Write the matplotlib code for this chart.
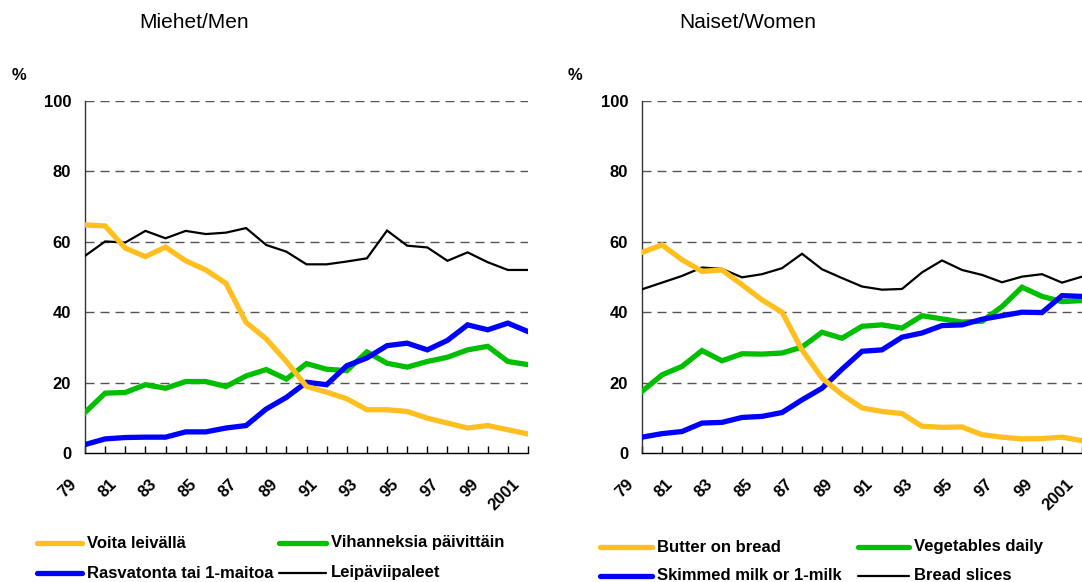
import matplotlib
matplotlib.use("Agg")
import matplotlib.pyplot as plt
from matplotlib.lines import Line2D
from matplotlib.transforms import ScaledTranslation

plt.rcParams['font.family'] = ['Liberation Sans', 'DejaVu Sans']

years = list(range(1979, 2002))
tick_labels = [str(y)[2:] if y < 2000 else str(y) for y in years]

men_butter = [64.8, 64.5, 58.2, 55.8, 58.5, 54.6, 52.0, 48.2, 37.1, 32.4, 26.0, 18.9,
              17.3, 15.4, 12.3, 12.3, 11.8, 9.9, 8.5, 7.1, 7.8, 6.6, 5.4]
men_veg = [11.5, 17.0, 17.2, 19.4, 18.4, 20.3, 20.3, 18.9, 21.9, 23.7, 21.0, 25.4,
           23.8, 23.4, 28.7, 25.5, 24.4, 26.0, 27.2, 29.3, 30.3, 26.0, 25.1]
men_milk = [2.4, 4.0, 4.4, 4.5, 4.5, 6.0, 6.0, 7.1, 7.8, 12.5, 15.8, 20.1,
            19.4, 24.8, 27.0, 30.5, 31.2, 29.3, 32.0, 36.4, 35.0, 36.9, 34.5]
men_bread = [56.0, 60.1, 59.8, 63.1, 61.0, 63.1, 62.2, 62.6, 63.9, 59.1, 57.2, 53.6,
             53.6, 54.4, 55.3, 63.2, 58.9, 58.4, 54.6, 57.0, 54.2, 52.0, 52.0]

women_butter = [57.0, 59.1, 54.9, 51.6, 52.0, 47.8, 43.5, 40.0, 29.3, 21.3, 16.6, 12.8,
                11.8, 11.2, 7.6, 7.3, 7.4, 5.2, 4.5, 4.0, 4.1, 4.5, 3.5]
women_veg = [17.5, 22.2, 24.6, 29.1, 26.2, 28.2, 28.1, 28.4, 30.1, 34.3, 32.6, 36.0,
             36.4, 35.5, 39.0, 38.1, 37.2, 37.4, 41.6, 47.1, 44.5, 43.0, 43.3]
women_milk = [4.5, 5.5, 6.1, 8.5, 8.7, 10.1, 10.4, 11.5, 15.1, 18.4, 23.8, 28.9,
              29.3, 32.9, 34.1, 36.2, 36.4, 38.0, 39.0, 40.0, 39.9, 44.7, 44.5]
women_bread = [46.5, 48.4, 50.3, 52.7, 52.3, 49.9, 50.8, 52.5, 56.6, 52.2, 49.7, 47.3,
               46.4, 46.6, 51.3, 54.7, 52.0, 50.6, 48.5, 50.1, 50.8, 48.4, 50.1]

men_labels = ["Voita leivällä", "Vihanneksia päivittäin", "Rasvatonta tai 1-maitoa", "Leipäviipaleet"]
women_labels = ["Butter on bread", "Vegetables daily", "Skimmed milk or 1-milk", "Bread slices"]

COL_BUTTER = "#FFBF1F"
COL_VEG = "#00BF00"
COL_MILK = "#0000FF"
COL_BREAD = "#000000"

W, H = 1082, 582
fig = plt.figure(figsize=(W / 100, H / 100), dpi=100)


def px_rect(x0, x1, ytop, ybot):
    return [x0 / W, 1 - ybot / H, (x1 - x0) / W, (ybot - ytop) / H]


def setup(ax, series, title, title_x, pct_x):
    x = list(range(len(years)))
    b, v, m, br = series
    ax.plot(x, br, color=COL_BREAD, lw=1.6, zorder=3, solid_joinstyle='miter')
    ax.plot(x, v, color=COL_VEG, lw=3.8, zorder=4, solid_joinstyle='miter')
    ax.plot(x, m, color=COL_MILK, lw=3.8, zorder=5, solid_joinstyle='miter')
    ax.plot(x, b, color=COL_BUTTER, lw=3.8, zorder=6, solid_joinstyle='miter')
    ax.set_xlim(0, len(years) - 1)
    ax.set_ylim(0, 100)
    ax.set_yticks([0, 20, 40, 60, 80, 100])
    ax.set_yticklabels(["0", "20", "40", "60", "80", "100"], fontsize=12, fontweight='bold')
    ax.tick_params(axis='y', length=0, pad=10)
    for yv in [20, 40, 60, 80, 100]:
        ax.axhline(yv, color='#555555', lw=1.0, dashes=(6.5, 4.3), zorder=1)
    ax.set_xticks(x)
    ax.set_xticklabels([lab if i % 2 == 0 else "" for i, lab in enumerate(tick_labels)],
                       rotation=45, ha='right', fontsize=12, fontweight='bold')
    ax.tick_params(axis='x', direction='in', length=5, width=1, pad=17, color='black')
    off = ScaledTranslation(-6 / 100, 0, fig.dpi_scale_trans)
    for lab in ax.get_xticklabels():
        lab.set_transform(lab.get_transform() + off)
    for s in ['top', 'right']:
        ax.spines[s].set_visible(False)
    ax.spines['left'].set_color('#333333')
    ax.spines['bottom'].set_color('black')
    ax.spines['left'].set_linewidth(1.0)
    ax.spines['bottom'].set_linewidth(1.0)
    fig.text(title_x / W, 1 - 22 / H, title, fontsize=15, ha='center', va='center')
    fig.text(pct_x / W, 1 - 75 / H, "%", fontsize=12, fontweight='bold', ha='center', va='center')


ax1 = fig.add_axes(px_rect(85, 528, 101, 453))
setup(ax1, (men_butter, men_veg, men_milk, men_bread), "Miehet/Men", 194, 19)
ax2 = fig.add_axes(px_rect(642, 1082, 101, 453))
setup(ax2, (women_butter, women_veg, women_milk, women_bread), "Naiset/Women", 748, 575)


def legend(labels, positions):
    cols = [COL_BUTTER, COL_VEG, COL_MILK, COL_BREAD]
    lws = [3.8, 3.8, 3.8, 1.6]
    for lab, col, lw, (lx0, lx1, ly) in zip(labels, cols, lws, positions):
        fig.add_artist(Line2D([lx0 / W, lx1 / W], [1 - ly / H, 1 - ly / H], color=col, lw=lw,
                              solid_capstyle='round', transform=fig.transFigure))
        fig.text((lx1 + 5) / W, 1 - ly / H, lab, fontsize=12, fontweight='bold',
                 ha='left', va='center')


legend(men_labels, [(37, 82, 543), (279, 326, 543), (37, 82, 573), (279, 326, 573)])
legend(women_labels, [(600, 652, 547), (858, 909, 547), (600, 652, 576), (858, 909, 576)])

fig.savefig("out.png", dpi=100)
